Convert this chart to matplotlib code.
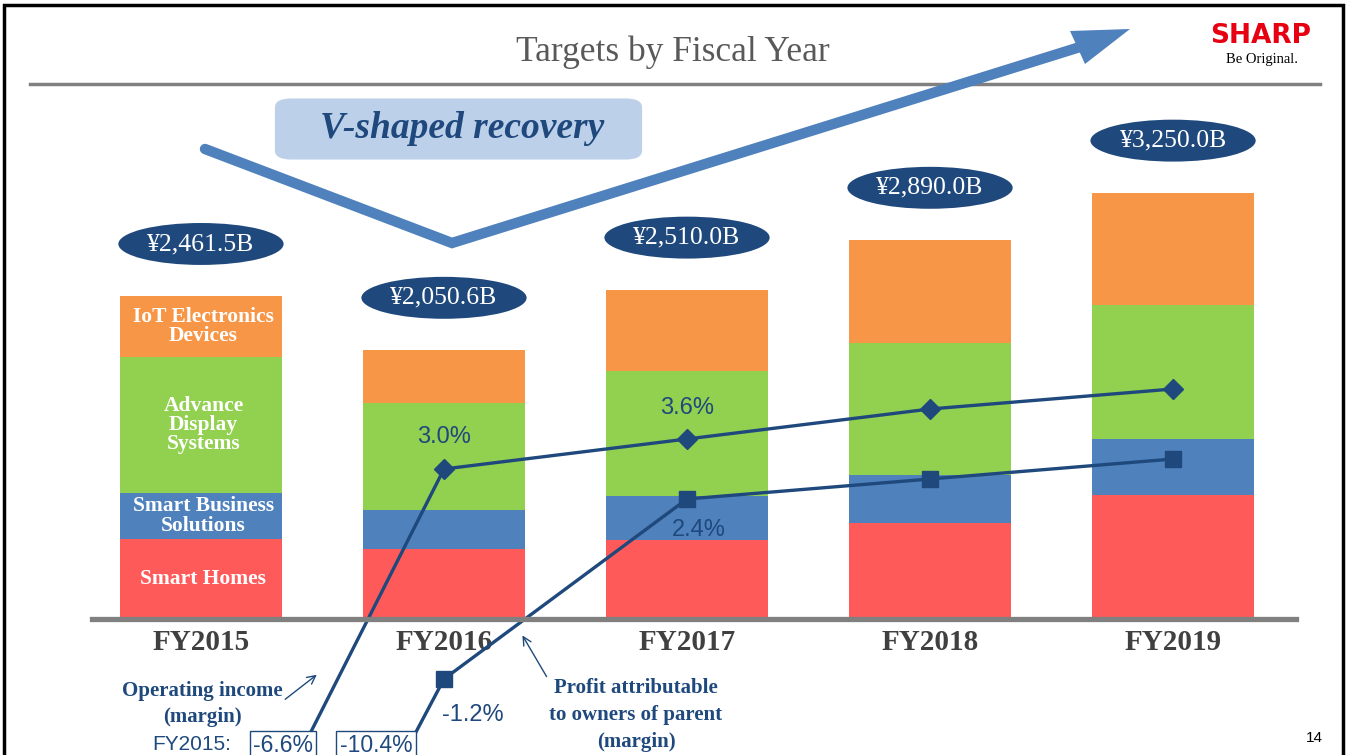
import numpy as np
import matplotlib
matplotlib.use("Agg")
import matplotlib.pyplot as plt
from matplotlib.patches import Ellipse, FancyBboxPatch, Polygon, Rectangle, FancyArrowPatch

# Datos (miles de millones de yenes y margenes en %)
years = ["FY2015", "FY2016", "FY2017", "FY2018", "FY2019"]
totals = [2461.5, 2050.6, 2510.0, 2890.0, 3250.0]
total_labels = ["¥2,461.5B", "¥2,050.6B", "¥2,510.0B", "¥2,890.0B", "¥3,250.0B"]
smart_homes = [610, 532, 606, 732, 947]
smart_business = [351, 301, 330, 370, 424]
display_systems = [1036, 817, 960, 1002, 1023]
iot_devices = [464.5, 400.6, 614, 786, 856]
op_margin = [-6.6, 3.0, 3.6, 4.2, 4.6]
net_margin = [-10.4, -1.2, 2.4, 2.8, 3.2]

segments = [
    ("Smart Homes", smart_homes, "#FF5A5A"),
    ("Smart Business\nSolutions", smart_business, "#4F81BD"),
    ("Advance\nDisplay\nSystems", display_systems, "#92D050"),
    ("IoT Electronics\nDevices", iot_devices, "#F79646"),
]

NAVY = "#1F497D"
W, H = 1349, 755
SERIF = ["Liberation Serif", "DejaVu Serif"]
SANS = ["Liberation Sans", "DejaVu Sans"]


def P(x, y):
    # pixel -> coordenadas de figura
    return (x / W, 1 - y / H)


fig = plt.figure(figsize=(W / 100, H / 100), dpi=100)
fig.patch.set_facecolor("white")

ax = fig.add_axes([0, 0, 1, 1])
ax.set_xlim(-0.827, 4.724)
ax.set_ylim(-136 * 7.63, 619 * 7.63)
ax.axis("off")

ax2 = ax.twinx()
ax2.set_ylim(-136 / 50, 619 / 50)
ax2.axis("off")

x = np.arange(len(years))
bottom = np.zeros(len(years))
for name, vals, col in segments:
    ax.bar(x, vals, width=0.67, bottom=bottom, color=col, zorder=2)
    ax.text(x[0] + 0.01, bottom[0] + vals[0] / 2, name, ha="center", va="center",
            color="white", fontsize=15.5, fontweight="bold", family=SERIF,
            linespacing=0.95, zorder=4)
    bottom += np.array(vals)

# Elipses con totales
for xi, tot, lab in zip(x, totals, total_labels):
    ax.add_patch(Ellipse((xi, tot + 400), 0.68, 320, facecolor=NAVY,
                         edgecolor="none", zorder=3))
    ax.text(xi, tot + 400, lab, ha="center", va="center", color="white",
            fontsize=18.5, family=SERIF, zorder=4)

# Lineas de margen
ax2.plot(x, op_margin, color=NAVY, lw=2.4, marker="D", ms=10, zorder=5)
ax2.plot(x, net_margin, color=NAVY, lw=2.4, marker="s", ms=11, zorder=5)
lab_kw = dict(color=NAVY, fontsize=17, family=SANS, ha="center", va="center", zorder=6)
ax2.text(x[1], op_margin[1] + 0.64, "3.0%", **lab_kw)
ax2.text(x[2], op_margin[2] + 0.62, "3.6%", **lab_kw)
ax2.text(x[2] + 0.05, net_margin[2] - 0.62, "2.4%", **lab_kw)
ax2.text(x[1] + 0.12, net_margin[1] - 0.72, "-1.2%", **lab_kw)

# Linea base
fig.add_artist(plt.Line2D([92 / W, 1296 / W], [P(0, 619)[1]] * 2, color="#808080",
                          lw=3.8, zorder=7))

# Etiquetas de anios
for xi, yr in zip(x, years):
    ax.text(xi, (619 - 642) * 7.63, yr, ha="center", va="center", color="#404040",
            fontsize=21, fontweight="bold", family=SERIF, zorder=6)

# Titulo, linea y logo
fig.text(*P(673, 52), "Targets by Fiscal Year", ha="center", va="center",
         color="#595959", fontsize=25.5, family=SERIF)
fig.add_artist(plt.Line2D([30 / W, 1320 / W], [P(0, 84)[1]] * 2, color="#808080", lw=2.5))
fig.text(*P(1261, 36), "SHARP", ha="center", va="center", color="#E60012",
         fontsize=19, fontweight="bold", family=["DejaVu Sans"])
fig.text(*P(1262, 59), "Be Original.", ha="center", va="center", color="black",
         fontsize=10.5, family=SERIF)

# Flecha en V
vx = [205, 452, 1080]
vy = [149, 243, 47]
fig.add_artist(plt.Line2D([v / W for v in vx], [1 - v / H for v in vy], color="#4F81BD",
                          lw=7.5, solid_capstyle="round", solid_joinstyle="miter", zorder=3))
head = [P(1070, 31), P(1130, 29), P(1085, 64)]
fig.add_artist(Polygon(head, closed=True, transform=fig.transFigure, facecolor="#4F81BD",
                       edgecolor="none", zorder=3))

# Recuadro "V-shaped recovery"
fig.add_artist(FancyBboxPatch(P(283, 155), 351 / W, 52 / H,
                              boxstyle="round,pad=0.006,rounding_size=0.012",
                              transform=fig.transFigure, facecolor="#BDD0EA",
                              edgecolor="none", zorder=2))
fig.text(*P(462, 128), "V-shaped recovery", ha="center", va="center", color=NAVY,
         fontsize=27, fontweight="bold", style="italic", family=SERIF, zorder=4)

# Notas inferiores
note_kw = dict(ha="center", va="center", color=NAVY, fontsize=15, fontweight="bold",
               family=SERIF, linespacing=1.45)
fig.text(*P(202, 704), "Operating income\n(margin)", **note_kw)
fig.text(*P(636, 715), "Profit attributable\nto owners of parent\n(margin)", **note_kw)
arr_kw = dict(transform=fig.transFigure, arrowstyle="->,head_length=6,head_width=3",
              color=NAVY, lw=1.0)
fig.add_artist(FancyArrowPatch(P(283, 701), P(319, 673), **arr_kw))
fig.add_artist(FancyArrowPatch(P(548, 679), P(521, 633), **arr_kw))
fig.text(*P(192, 745), "FY2015:", ha="center", va="center", color=NAVY, fontsize=15,
         family=SANS)
box = dict(boxstyle="square,pad=0.15", facecolor="white", edgecolor=NAVY, lw=1.0)
fig.text(*P(283, 746), "-6.6%", ha="center", va="center", color=NAVY, fontsize=16.5,
         family=SANS, bbox=box, zorder=8)
fig.text(*P(376, 746), "-10.4%", ha="center", va="center", color=NAVY, fontsize=16.5,
         family=SANS, bbox=box, zorder=8)
fig.text(*P(1314, 738), "14", ha="center", va="center", color="black", fontsize=11,
         family=SANS)

# Marco
fig.add_artist(Rectangle(P(4, 800), 1339 / W, 795 / H, transform=fig.transFigure,
                         facecolor="none", edgecolor="black", lw=2.5, zorder=10))

fig.savefig("out.png", dpi=100)
